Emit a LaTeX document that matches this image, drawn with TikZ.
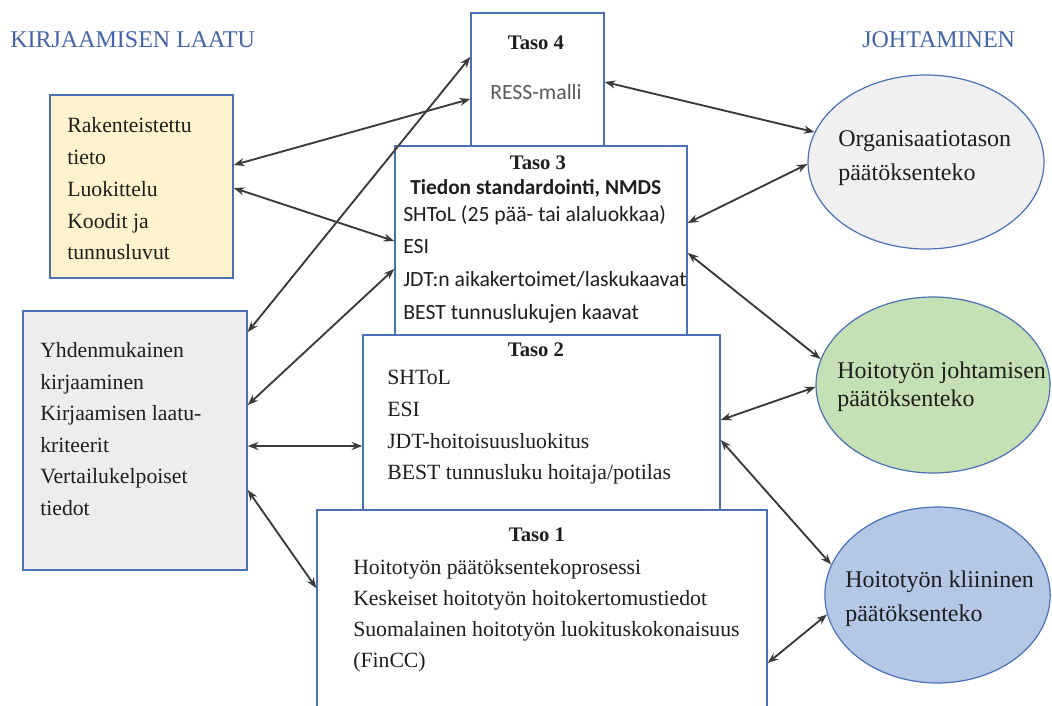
\documentclass[tikz,border=0pt]{standalone}
\usepackage{fontspec}
\setmainfont{Liberation Serif}
\newfontfamily\calibri{Carlito}
\usetikzlibrary{arrows.meta,shapes.geometric,fit}
\definecolor{bordblue}{HTML}{4A70B5}
\definecolor{headblue}{HTML}{4264A8}
\definecolor{yellowfill}{HTML}{FFF2CC}
\definecolor{grayfill}{HTML}{EDEDED}
\definecolor{ellone}{HTML}{F0F0F0}
\definecolor{elltwo}{HTML}{C5E0B4}
\definecolor{ellthree}{HTML}{B4C7E7}
\definecolor{arrowc}{HTML}{3A3A3A}
\definecolor{textc}{HTML}{1E1E1E}
\definecolor{ressc}{HTML}{595959}
\begin{document}
\begin{tikzpicture}[x=0.75pt,y=-0.75pt,
  box/.style={draw=bordblue,line width=1.1pt,inner sep=0pt},
  ell/.style={ellipse,draw=bordblue,line width=0.9pt,inner sep=0pt},
  con/.style={{Stealth[length=8pt,width=6pt]}-{Stealth[length=8pt,width=6pt]},draw=arrowc,line width=1.4pt},
  serif/.style={font=\fontsize{16.3}{23.8}\selectfont,text=textc,align=left,inner sep=0pt,anchor=west},
  sans/.style={font=\calibri\fontsize{16.3}{24.5}\selectfont,text=textc,align=left,inner sep=0pt,anchor=west},
  title/.style={font=\bfseries\fontsize{15.5}{18}\selectfont,text=textc,inner sep=0pt},
  head/.style={font=\fontsize{18}{22}\selectfont,text=headblue,inner sep=0pt,anchor=west},
  elltext/.style={font=\fontsize{18}{26}\selectfont,text=textc,align=left,inner sep=0pt,anchor=west}]
\useasboundingbox (0,0) rectangle (1052,706);
\clip (0,0) rectangle (1052,706);

% headers
\node[head] (h1) at (10,40) {KIRJAAMISEN LAATU};
\node[head] (h2) at (862,40) {JOHTAMINEN};

% left boxes
\node[box,fill=yellowfill,fit={(50,95) (233,278)}] (yb) {};
\node[box,fill=grayfill,fit={(23,311) (247,570)}] (gb) {};

% level boxes
\node[box,fill=white,fit={(471,13) (604,200)}] (t4) {};
\node[box,fill=white,fit={(395,146) (687,400)}] (t3) {};
\node[box,fill=white,fit={(363,335) (720,560)}] (t2) {};
\node[box,fill=white,fit={(317,510) (767,720)}] (t1) {};

% ellipses
\node[ell,fill=ellone,minimum width=177pt,minimum height=130.5pt] (e1) at (926,162) {};
\node[ell,fill=elltwo,minimum width=175.5pt,minimum height=132pt] (e2) at (933,385) {};
\node[ell,fill=ellthree,minimum width=169pt,minimum height=132pt] (e3) at (937.5,595) {};

% texts
\node[serif] (ytext) at (67,189) {Rakenteistettu\\tieto\\Luokittelu\\Koodit ja\\tunnusluvut};
\node[serif,font=\fontsize{16.3}{23.7}\selectfont] (gtext) at (40,429) {Yhdenmukainen\\kirjaaminen\\Kirjaamisen laatu-\\kriteerit\\Vertailukelpoiset\\tiedot};

\node[title] (t4title) at (536,43) {Taso 4};
\node[font=\calibri\fontsize{16.3}{20}\selectfont,text=ressc,inner sep=0pt] (t4text) at (536,92) {RESS-malli};

\node[title] (t3title) at (538,163) {Taso 3};
\node[sans,font=\calibri\bfseries\fontsize{16}{20}\selectfont] (t3sub) at (410,188) {Tiedon standardointi, NMDS};
\node[sans] (t3text) at (403,264) {SHToL (25 pää- tai alaluokkaa)\\ESI\\JDT:n aikakertoimet/laskukaavat\\BEST tunnuslukujen kaavat};

\node[title] (t2title) at (536,350) {Taso 2};
\node[serif] (t2text) at (387,427.5) {SHToL\\ESI\\JDT-hoitoisuusluokitus\\BEST tunnusluku hoitaja/potilas};

\node[title] (t1title) at (537,535) {Taso 1};
\node[serif,font=\fontsize{16.3}{23.3}\selectfont] (t1text) at (353,616) {Hoitotyön päätöksentekoprosessi\\Keskeiset hoitotyön hoitokertomustiedot\\Suomalainen hoitotyön luokituskokonaisuus\\(FinCC)};

\node[elltext] (e1text) at (838,158) {Organisaatiotason\\päätöksenteko};
\node[elltext,font=\fontsize{18}{21}\selectfont] (e2text) at (837,387) {Hoitotyön johtamisen\\päätöksenteko};
\node[elltext,font=\fontsize{18}{25.5}\selectfont] (e3text) at (845,599) {Hoitotyön kliininen\\päätöksenteko};

% connectors
\draw[con] (yb.east |- 0,165) -- (t4.west |- 0,99);
\draw[con] (yb.east |- 0,188) -- (t3.west |- 0,241);
\draw[con] (gb.east |- 0,332) -- (t4.west |- 0,57);
\draw[con] (gb.east |- 0,405) -- (t3.west |- 0,269);
\draw[con] (gb.east |- 0,446) -- (t2.west |- 0,446);
\draw[con] (gb.east |- 0,490) -- (t1.west |- 0,588);
\draw[con] (t4.east |- 0,82) -- (e1.165);
\draw[con] (t3.east |- 0,223) -- (e1.181);
\draw[con] (t3.east |- 0,253) -- (e2.167);
\draw[con] (t2.east |- 0,420) -- (e2.181);
\draw[con] (t2.east |- 0,440) -- (e3.164);
\draw[con] (t1.east |- 0,663) -- (e3.190);
\end{tikzpicture}
\end{document}
